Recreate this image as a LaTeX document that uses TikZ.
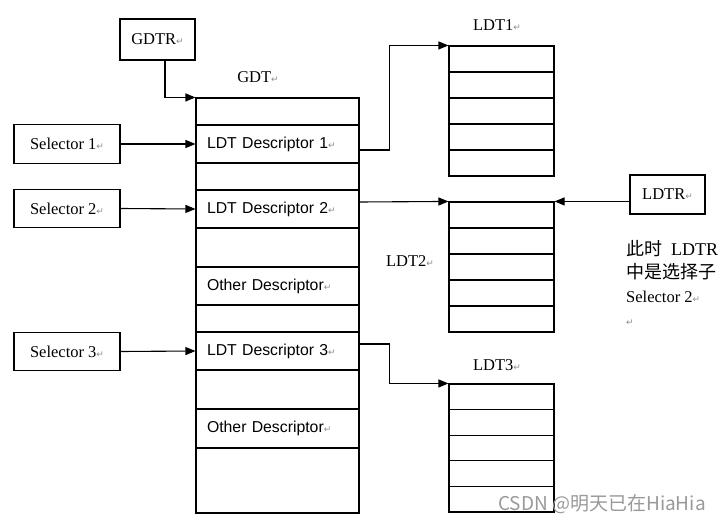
\documentclass[tikz,border=0pt]{standalone}
\usepackage{fontspec}
\setmainfont{Liberation Serif}
\newfontfamily\descfont{Liberation Sans}
\newfontfamily\cjkfont{Noto Sans CJK SC}
\newfontfamily\symfont{DejaVu Sans}
\usetikzlibrary{arrows.meta}
\newcommand{\pmark}{{\symfont\fontsize{9}{9}\selectfont\color{black!45}↵}}

\begin{document}
\begin{tikzpicture}[x=1pt,y=-1pt,
		box/.style={draw, line width=1.1pt, minimum width=106pt, minimum height=38.5pt, inner sep=0pt, font=\fontsize{16.5}{18}\selectfont},
		gdtrow/.style={draw, line width=1.1pt, minimum height=#1, text width=141pt, inner xsep=11pt, inner ysep=0pt, align=left, font=\descfont\fontsize{15.8}{17}\selectfont},
		gdtrow/.default=38pt,
		ldtrow/.style={draw, line width=1.1pt, minimum width=105pt, minimum height=#1, inner sep=0pt},
		lbl/.style={font=\fontsize{16.5}{18}\selectfont, inner sep=0pt},
		arr/.style={line width=1.1pt, -{Triangle[length=10pt,width=8pt]}}]
			\useasboundingbox (0,0) rectangle (722,524);
			
			\node[box, minimum width=75pt, minimum height=41pt] (gdtr) at (157.5,39.5) {GDTR\pmark};
			\node[lbl] (gdtl) at (258,77) {GDT\pmark};
			
			\node[gdtrow=27pt] (g0) at (277.5,111.5) {};
			\node[gdtrow] (d1) at (277.5,144) {LDT Descriptor 1\pmark};
			\node[gdtrow=27pt] (g2) at (277.5,176.5) {};
			\node[gdtrow] (d2) at (277.5,209) {LDT Descriptor 2\pmark};
			\node[gdtrow=39pt] (g4) at (277.5,247.5) {};
			\node[gdtrow] (o1) at (277.5,286) {Other Descriptor\pmark};
			\node[gdtrow=27pt] (g6) at (277.5,318.5) {};
			\node[gdtrow] (d3) at (277.5,351) {LDT Descriptor 3\pmark};
			\node[gdtrow=39pt] (g8) at (277.5,389.5) {};
			\node[gdtrow=39pt] (o2) at (277.5,428.5) {Other Descriptor\pmark};
			\node[gdtrow=65pt] (g10) at (277.5,480.5) {};
			
			\node[box] (s1) at (67,144) {Selector 1\pmark};
			\node[box] (s2) at (67,208.5) {Selector 2\pmark};
			\node[box] (s3) at (67,351.5) {Selector 3\pmark};
			
			\node[lbl] (l1) at (497,25) {LDT1\pmark};
			\node[lbl] (l2) at (410,261) {LDT2\pmark};
			\node[lbl] (l3) at (497,365) {LDT3\pmark};
			\foreach \i in {1,...,5} {
				\node[ldtrow=26pt] (a\i) at (501.5,33+26*\i) {};
				\node[ldtrow=26pt] (b\i) at (501.5,189+26*\i) {};
				\node[ldtrow=25.6pt] (c\i) at (501.5,371.2+25.6*\i) {};
			}
			
			\node[box, minimum width=75pt, minimum height=39pt] (ldtr) at (667.5,194.5) {LDTR\pmark};
			\node[anchor=north west, align=left, inner sep=0pt, font=\fontsize{18}{23.5}\selectfont] (note) at (626,240)
				{{\cjkfont 此时}\ \ LDTR\\{\cjkfont 中是选择子}\\{\fontsize{16.5}{23.5}\selectfont Selector 2\pmark}\\\pmark};
			
			\node[font=\cjkfont\fontsize{19}{19}\selectfont, text=black!40, inner sep=0pt] (wm) at (602,504) {CSDN @明天已在HiaHia};
			
			\draw[arr] ([xshift=7.5pt]gdtr.south) |- (g0.north west);
			\draw[arr] (s1.east) -- (d1.west);
			\draw[arr] (s2.east) -- (d2.west);
			\draw[arr] (s3.east) -- (d3.west);
			\draw[arr] ([yshift=-6pt]d1.east) -- ++(30,0) |- (a1.north west);
			\draw[arr] ([yshift=7pt]d2.east) -- (b1.north west);
			\draw[arr] (ldtr.west |- b1.north east) -- (b1.north east);
			\draw[arr] ([yshift=7pt]d3.east) -- ++(30,0) |- (c1.north west);
		\end{tikzpicture}
\end{document}
